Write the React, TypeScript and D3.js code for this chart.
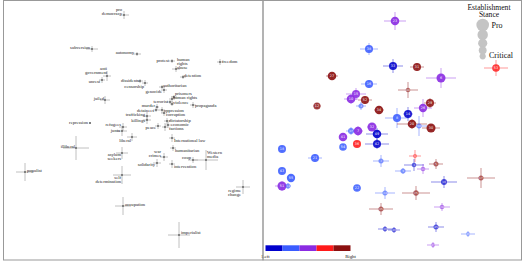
import React from "react";
import * as d3 from "d3";

// ---- left panel: word positions (x, y in embedding units) with spread ----
const wordLabels = [
  "pro\ndemocracy", "subversion", "autonomy", "protest", "human\nrights\nabuse", "freedom",
  "anti\ngovernment", "unrest", "detention", "dissidents", "censorship", "authoritarian",
  "genocide", "jailed", "prisoners", "human rights", "violence", "terrorist", "propaganda",
  "murder", "detainees", "oppression", "corruption", "trafficking", "killings", "dictatorship",
  "economic", "peace", "factions", "repression", "refugees", "junta", "liberal", "illiberal",
  "asylum\nseekers", "International law", "humanitarian", "war\ncrimes", "solidarity",
  "intervention", "coup", "Western\nmedia", "populist", "self\ndetermination", "regime\nchange",
  "occupation", "imperialist",
];
const wordX = [121, 89, 134, 169, 173, 217, 104, 99, 180, 137, 142, 159, 161, 102, 171, 169, 169, 167, 190, 154, 153, 159, 161, 144, 144, 164, 165, 155, 162, 87, 120, 119, 129, 73, 119, 169, 170, 161, 154, 169, 190, 203, 22, 119, 240, 120, 176];
const wordY = [245, 211, 206, 199, 191, 198, 184, 180, 183, 179, 177, 173, 170, 160, 163, 161, 156, 158, 155, 153, 150, 150, 147, 144, 140, 139, 135, 134, 133, 137, 133, 129, 123, 112, 107, 122, 112, 103, 97, 96, 100, 100, 88, 85, 73, 54, 25];
const wordErrX = [5, 6, 4, 3, 4, 3, 4, 3, 3, 3, 3, 3, 3, 5, 3, 3, 2, 3, 3, 2, 3, 3, 3, 4, 4, 3, 3, 3, 3, 1, 4, 5, 5, 13, 6, 3, 3, 4, 4, 3, 5, 12, 9, 9, 7, 8, 11];
const wordErrY = [4, 3, 2, 2, 3, 3, 5, 3, 2, 2, 3, 2, 3, 4, 2, 3, 2, 2, 3, 3, 2, 3, 3, 4, 4, 3, 3, 3, 4, 1, 4, 5, 4, 12, 6, 4, 3, 4, 4, 4, 3, 10, 9, 9, 7, 9, 13];
// label placement relative to each point: [anchor, dx, dy]
const labelPlace: [string, number, number][] = [
  ["end", -2, -4.5], ["end", -2, 0], ["end", -3, 0], ["end", -3, 0.5], ["start", 1, -8.5], ["start", 2, 0.5],
  ["end", 0, -5.7], ["end", -2, 3], ["start", 1, 0], ["end", -1, 0.5], ["end", -1, 4.5], ["start", 1, -0.5],
  ["end", -2, 2.5], ["end", -1, 0], ["start", 1, -1.8], ["start", 1, -0.4], ["start", 1, 0], ["end", -2, 0.5],
  ["start", 2, 2], ["end", -2, 0], ["end", -2, 1.5], ["start", 2, 1.5], ["start", 2, 3], ["end", -2, 0],
  ["end", -2, 1.5], ["start", 2, 1], ["start", 3, 1], ["end", -2, 2.5], ["start", 4, 2.5], ["end", -2, 0.5],
  ["end", -2, -1], ["end", -2, 1], ["end", -1, 4.5], ["end", -1, 0], ["end", -1, 3], ["start", 2, 4],
  ["start", 2, 3.5], ["end", -3, -4], ["end", -2, 3], ["start", 2, 4], ["end", -2, -1], ["start", 1, -6],
  ["start", 2, 0], ["end", -1, 4], ["end", -2, 4.5], ["start", 2, 0], ["start", 2, -1],
];

// ---- right panel: outlets ----
const outletLabels = ["23", "38", "33", "31", "6", "27", "16", "53", "44", "15", "10", "52", "4", "12", "34", "26", "29", "8", "14", "20", "50", "30", "32", "7", "37", "49", "41", "42", "54", "36", "18", "21", "1", "2", "3", "5", "43", "9", "11", "55", "51", "13", "22", "17", "19", "24", "25", "28", "35", "39", "40", "45", "46", "47"];
const outletLean = [2, 1, 0, 4, 2, 4, 1, 3, 4, 2, 2, 4, 1, 4, 4, 2, 4, 1, 0, 4, 1, 4, 2, 2, 1, 0, 2, 0, 1, 3, 1, 1, 3, 1, 0, 4, 1, 1, 2, 1, 2, 1, 1, 4, 0, 1, 4, 2, 4, 0, 0, 0, 1, 2];
const outletX = [132, 106, 130, 154, 178, 69, 106, 233, 145, 93, 88, 102, 98, 54, 116, 160, 167, 134, 145, 149, 156, 168, 109, 95, 88, 114, 80, 114, 80, 94, 19, 52, 152, 118, 151, 173, 19, 140, 160, 28, 19, 25, 94, 218, 181, 122, 153, 179, 118, 122, 131, 173, 205, 170];
const outletY = [239, 211, 194, 193, 182, 184, 176, 192, 170, 166, 161, 160, 154, 154, 150, 152, 157, 142, 146, 136, 134, 132, 133, 129, 129, 126, 123, 116, 113, 116, 111, 102, 104, 99, 95, 96, 89, 89, 91, 82, 74, 74, 72, 82, 78, 67, 67, 53, 51, 31, 30, 33, 26, 15];
const outletStance = [0.53, 0.47, 0.47, 0.47, 0.58, 0.53, 0.47, 0.42, 0.07, 0.47, 0.53, 0.47, 0.12, 0.35, 0.53, 0.5, 0.47, 0.47, 0.47, 0.53, 0.12, 0.58, 0.58, 0.53, 0.23, 0.53, 0.53, 0.47, 0.42, 0.47, 0.47, 0.47, 0, 0.12, 0.07, 0.12, 0.47, 0.12, 0.07, 0.5, 0.58, 0.12, 0.42, 0.12, 0.23, 0.12, 0.16, 0.07, 0.12, 0.07, 0.07, 0.12, 0, 0];
const outletErrX = [11, 9, 10, 7, 15, 6, 8, 12, 10, 10, 7, 7, 5, 4, 5, 9, 6, 12, 5, 15, 8, 9, 5, 5, 5, 11, 3, 12, 3, 3, 3, 7, 6, 8, 10, 7, 3, 8, 6, 3, 7, 3, 4, 14, 13, 10, 14, 8, 12, 7, 6, 8, 7, 6];
const outletErrY = [9, 6, 7, 4, 10, 3, 4, 8, 8, 6, 5, 4, 4, 3, 4, 9, 5, 10, 7, 5, 10, 3, 4, 5, 4, 6, 4, 5, 3, 3, 3, 4, 6, 6, 6, 5, 3, 3, 5, 3, 5, 3, 3, 10, 6, 6, 7, 4, 6, 3, 3, 5, 3, 3];

const leanColors = ["#0000cc", "#3a5cff", "#8a2be2", "#ff1a1a", "#8b1010"];
const legendStances = [1, 0.75, 0.6, 0.45, 0.25];

const W = 523;
const H = 264;

export default function App() {
  const xL = d3.scaleLinear().domain([0, 260]).range([3, 263]);
  const y = d3.scaleLinear().domain([0, 259]).range([260, 1]);
  const xR = d3.scaleLinear().domain([0, 258]).range([263, 521]);
  const r = d3.scaleLinear().domain([0, 1]).range([2, 6.3]);
  const barX = d3.scaleBand<number>().domain(d3.range(leanColors.length)).range([265.5, 350.5]);

  const serif = "'Liberation Serif', 'DejaVu Serif', serif";

  // legend circle centres stacked, overlapping the one above
  const legendY: number[] = [];
  legendStances.forEach((s, i) => {
    if (i === 0) legendY.push(25);
    else legendY.push(legendY[i - 1] + (r(legendStances[i - 1]) + r(s)) * 0.85);
  });

  return (
    <svg width={W} height={H} style={{ position: "absolute", left: 0, top: 0 }} fontFamily={serif}>
      <rect x={0} y={0} width={W} height={H} fill="#fff" />

      {/* left panel */}
      <g>
        {wordLabels.map((w, i) => {
          const cx = xL(wordX[i]);
          const cy = y(wordY[i]);
          const ex = xL(wordX[i] + wordErrX[i]) - cx;
          const ey = cy - y(wordY[i] + wordErrY[i]);
          return (
            <g key={"wl" + i}>
              <line x1={cx - ex} x2={cx + ex} y1={cy} y2={cy} stroke="#b0b0b0" strokeWidth={0.8} />
              <line x1={cx} x2={cx} y1={cy - ey} y2={cy + ey} stroke="#b0b0b0" strokeWidth={0.8} />
            </g>
          );
        })}
        {wordLabels.map((w, i) => {
          const cx = xL(wordX[i]);
          const cy = y(wordY[i]);
          const [anchor, dx, dy] = labelPlace[i];
          const lines = w.split("\n");
          return (
            <g key={"wt" + i}>
              <circle cx={cx} cy={cy} r={0.8} fill="#222" />
              <text x={cx + dx} y={cy + dy} fontSize={4.6} textAnchor={anchor} fill="#222">
                {lines.map((ln, j) => (
                  <tspan key={j} x={cx + dx} dy={j === 0 ? 0 : 4}>{ln}</tspan>
                ))}
              </text>
            </g>
          );
        })}
      </g>

      {/* right panel */}
      <g>
        {outletLabels.map((o, i) => {
          const cx = xR(outletX[i]);
          const cy = y(outletY[i]);
          const ex = xR(outletX[i] + outletErrX[i]) - cx;
          const ey = cy - y(outletY[i] + outletErrY[i]);
          const c = leanColors[outletLean[i]];
          return (
            <g key={"oe" + i} stroke={c} strokeOpacity={0.45} strokeWidth={1}>
              <line x1={cx - ex} x2={cx + ex} y1={cy} y2={cy} />
              <line x1={cx} x2={cx} y1={cy - ey} y2={cy + ey} />
            </g>
          );
        })}
        {outletLabels.map((o, i) => {
          const cx = xR(outletX[i]);
          const cy = y(outletY[i]);
          const c = leanColors[outletLean[i]];
          const s = outletStance[i];
          return (
            <g key={"oc" + i}>
              <circle cx={cx} cy={cy} r={r(s)} fill={c} fillOpacity={Math.min(0.9, 0.5 + s * 0.8)} />
              <text x={cx} y={cy + 1.1} fontSize={s > 0.3 ? 3.4 : 2.6} textAnchor="middle" fill="#fff"
                fontFamily="'DejaVu Sans', sans-serif">{o}</text>
            </g>
          );
        })}

        {/* size legend */}
        <text x={489} y={9.6} fontSize={7.6} textAnchor="middle" fill="#111">Establishment</text>
        <text x={489} y={16.6} fontSize={7.6} textAnchor="middle" fill="#111">Stance</text>
        {legendStances.map((s, i) => (
          <circle key={"lg" + i} cx={482.7} cy={legendY[i]} r={r(s)} fill="#c4c4c4" />
        ))}
        <text x={491.5} y={27.5} fontSize={8} fill="#111">Pro</text>
        <text x={489} y={57.5} fontSize={8} fill="#111">Critical</text>

        {/* lean colour bar */}
        {leanColors.map((c, i) => (
          <rect key={"cb" + i} x={barX(i)} y={245.3} width={barX.bandwidth()} height={5.7} fill={c} />
        ))}
        <text x={265.5} y={257.5} fontSize={4.8} textAnchor="middle" fill="#111">Left</text>
        <text x={350.5} y={257.5} fontSize={4.8} textAnchor="middle" fill="#111">Right</text>
      </g>

      {/* panel frames */}
      <rect x={3.5} y={0.5} width={259.5} height={259.5} fill="none" stroke="#999" strokeWidth={1} />
      <rect x={263} y={0.5} width={258.5} height={259.5} fill="none" stroke="#999" strokeWidth={1} />
    </svg>
  );
}
